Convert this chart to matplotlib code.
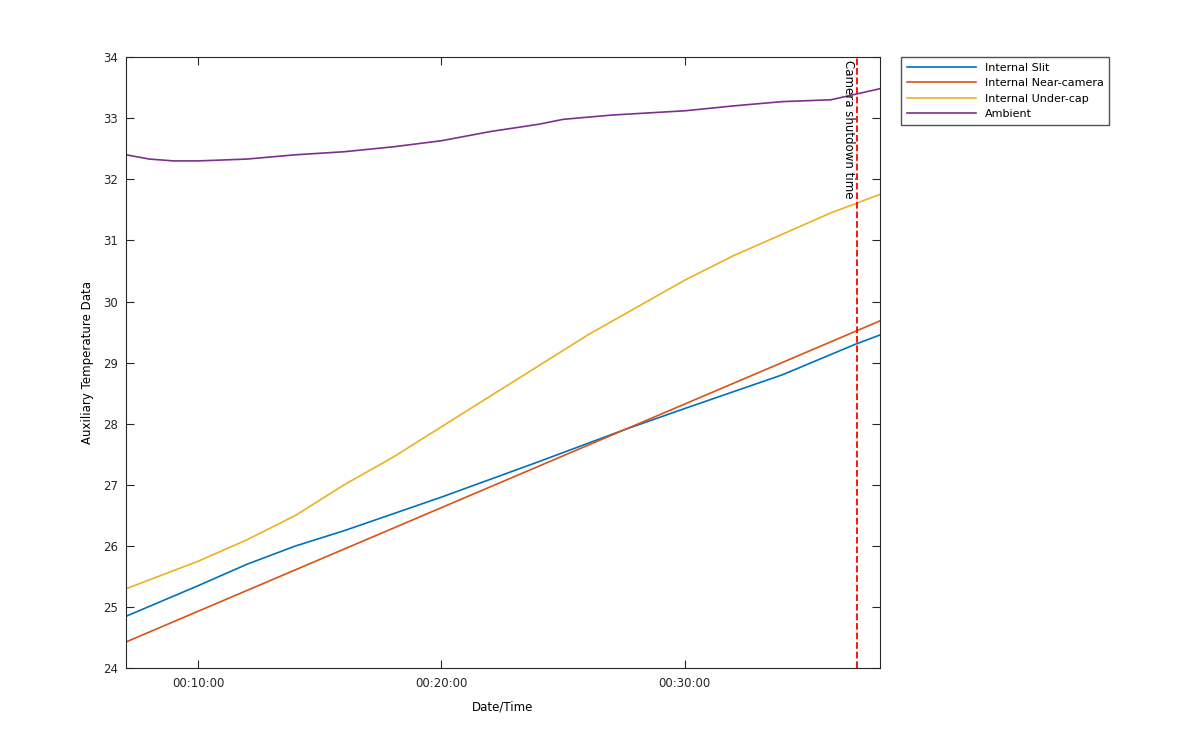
import matplotlib
matplotlib.use("Agg")
import matplotlib.pyplot as plt
from matplotlib.ticker import FuncFormatter

t_slit = [7.04, 10, 12, 14, 16, 20, 24, 27.5, 30, 34, 37, 38.0]
slit = [24.85, 25.35, 25.7, 26.0, 26.25, 26.8, 27.38, 27.9, 28.25, 28.8, 29.3, 29.45]
t_near = [7.04, 38.0]
near = [24.43, 29.68]
t_cap = [7.04, 10, 12, 14, 16, 18, 20, 22, 24, 26, 28, 30, 32, 34, 36, 38.0]
cap = [25.3, 25.75, 26.1, 26.5, 27.0, 27.45, 27.95, 28.45, 28.95, 29.45, 29.9, 30.35, 30.75, 31.1, 31.45, 31.75]
t_amb = [7.04, 8, 9, 10, 12, 14, 16, 18, 20, 22, 24, 25, 27, 30, 32, 34, 36, 38.0]
amb = [32.4, 32.33, 32.3, 32.3, 32.33, 32.4, 32.45, 32.53, 32.63, 32.78, 32.9, 32.98, 33.05, 33.12, 33.2, 33.27, 33.3, 33.48]
shutdown = 37.06
xticks = [10, 20, 30]
yticks = list(range(24, 35))

fig = plt.figure(figsize=(12, 7.5), dpi=100)
ax = fig.add_axes([0.105, 0.109, 0.628, 0.815])
ax.plot(t_slit, slit, color="#0072BD", lw=1.2, label="Internal Slit")
ax.plot(t_near, near, color="#D95319", lw=1.2, label="Internal Near-camera")
ax.plot(t_cap, cap, color="#EDB120", lw=1.2, label="Internal Under-cap")
ax.plot(t_amb, amb, color="#7E2F8E", lw=1.2, label="Ambient")
ax.axvline(shutdown, color="red", ls="--", lw=1.3)
ax.text(shutdown - 0.08, 33.95, "Camera shutdown time", rotation=-90, ha="right", va="top", fontsize=8.5)
ax.set_xlim(7.04, 38.0)
ax.set_ylim(24, 34)
ax.set_xticks(xticks)
ax.set_yticks(yticks)
ax.xaxis.set_major_formatter(FuncFormatter(lambda v, p: "00:%02d:00" % int(round(v))))
ax.tick_params(direction="in", top=True, right=True, labelsize=8.5, length=6, colors="#262626", pad=6)
for s in ax.spines.values():
    s.set_color("#262626")
ax.set_xlabel("Date/Time", fontsize=8.5, labelpad=8)
ax.set_ylabel("Auxiliary Temperature Data", fontsize=8.5, labelpad=6)
leg = ax.legend(loc="upper left", bbox_to_anchor=(1.029, 1.0), fontsize=8, frameon=True, fancybox=False, edgecolor="#262626", handlelength=6.2, borderaxespad=0, borderpad=0.5)
leg.get_frame().set_linewidth(1.0)
fig.savefig("out.png", dpi=100)
